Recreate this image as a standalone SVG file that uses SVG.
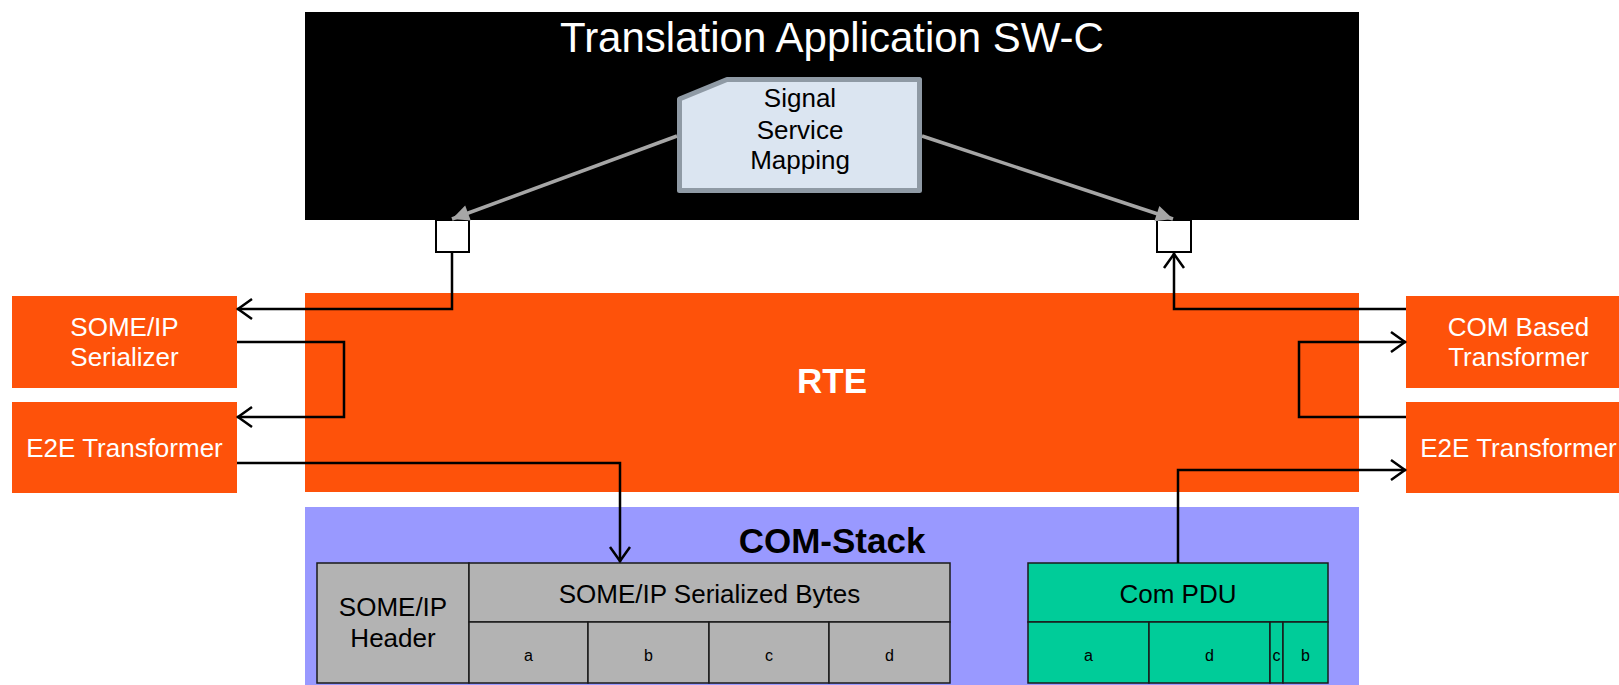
<svg xmlns="http://www.w3.org/2000/svg" width="1619" height="685" viewBox="0 0 1619 685">
<style>
  text { font-family: "Liberation Sans", Arial, sans-serif; }
  .orange { fill: #fe520a; }
  .wt { fill: #ffffff; font-size: 26px; text-anchor: middle; }
  .bt { fill: #000000; font-size: 26px; text-anchor: middle; }
  .sm { fill: #000000; font-size: 16px; text-anchor: middle; }
  .cell { stroke: #1a1a1a; stroke-width: 1.5; }
  .gray { fill: #b3b3b3; }
  .green { fill: #00cc99; }
  .conn { fill: none; stroke: #000; stroke-width: 2.5; marker-end: url(#open); }
  .gconn { fill: none; stroke: #a6a6a6; stroke-width: 3.5; marker-end: url(#gtri); }
</style>
<defs>
  <marker id="open" viewBox="-17 -12 19 24" refX="0" refY="0" markerWidth="19" markerHeight="24" markerUnits="userSpaceOnUse" orient="auto">
    <path d="M-15,-10 L-1,0 L-15,10" fill="none" stroke="#000" stroke-width="2.5"/>
  </marker>
  <marker id="gtri" viewBox="-18 -9 19 18" refX="0" refY="0" markerWidth="19" markerHeight="18" markerUnits="userSpaceOnUse" orient="auto">
    <path d="M-17,-8 L0,0 L-17,8 Z" fill="#a6a6a6"/>
  </marker>
</defs>

<g id="swc">
  <rect x="305" y="12" width="1054" height="208" fill="#000"/>
  <text x="832" y="52" fill="#fff" font-size="42" text-anchor="middle">Translation Application SW-C</text>
</g>

<g id="mapping">
  <path d="M679.5,99 L727,79.5 H919.5 V190.5 H679.5 Z" fill="#dbe5f1" stroke="#8f9aa5" stroke-width="5" stroke-linejoin="round"/>
  <text class="bt" x="800" y="107" font-size="25">Signal</text>
  <text class="bt" x="800" y="139" font-size="25">Service</text>
  <text class="bt" x="800" y="169" font-size="25">Mapping</text>
</g>

<g id="port-left">
  <rect x="436" y="220" width="33" height="32" fill="#fff" stroke="#000" stroke-width="2"/>
</g>
<g id="port-right">
  <rect x="1157" y="220" width="34" height="32" fill="#fff" stroke="#000" stroke-width="2"/>
</g>

<g id="rte">
  <rect class="orange" x="305" y="293" width="1054" height="199"/>
  <text x="832" y="393" fill="#fff" font-size="35" font-weight="bold" text-anchor="middle">RTE</text>
</g>

<g id="someip-serializer">
  <rect class="orange" x="12" y="296" width="225" height="92"/>
  <text class="wt" x="124.5" y="336">SOME/IP</text>
  <text class="wt" x="124.5" y="366">Serializer</text>
</g>
<g id="e2e-left">
  <rect class="orange" x="12" y="402" width="225" height="91"/>
  <text class="wt" x="124.5" y="457">E2E Transformer</text>
</g>
<g id="com-based">
  <rect class="orange" x="1406" y="296" width="225" height="92"/>
  <text class="wt" x="1518.5" y="336">COM Based</text>
  <text class="wt" x="1518.5" y="366">Transformer</text>
</g>
<g id="e2e-right">
  <rect class="orange" x="1406" y="402" width="225" height="91"/>
  <text class="wt" x="1518.5" y="457">E2E Transformer</text>
</g>

<g id="com-stack">
  <rect x="305" y="507" width="1054" height="178" fill="#9999ff"/>
  <text x="832" y="553" fill="#000" font-size="35" font-weight="bold" text-anchor="middle">COM-Stack</text>
</g>

<g id="someip-pdu">
  <rect class="gray cell" x="317" y="563" width="152" height="120"/>
  <rect class="gray cell" x="469" y="563" width="481" height="59"/>
  <rect class="gray cell" x="469" y="622" width="119" height="61"/>
  <rect class="gray cell" x="588" y="622" width="121" height="61"/>
  <rect class="gray cell" x="709" y="622" width="120" height="61"/>
  <rect class="gray cell" x="829" y="622" width="121" height="61"/>
  <text class="bt" x="393" y="616">SOME/IP</text>
  <text class="bt" x="393" y="647">Header</text>
  <text class="bt" x="709.5" y="603">SOME/IP Serialized Bytes</text>
  <text class="sm" x="528.5" y="661">a</text>
  <text class="sm" x="648.5" y="661">b</text>
  <text class="sm" x="769" y="661">c</text>
  <text class="sm" x="889.5" y="661">d</text>
</g>

<g id="com-pdu">
  <rect class="green cell" x="1028" y="563" width="300" height="59"/>
  <rect class="green cell" x="1028" y="622" width="121" height="61"/>
  <rect class="green cell" x="1149" y="622" width="121" height="61"/>
  <rect class="green cell" x="1270" y="622" width="13" height="61"/>
  <rect class="green cell" x="1283" y="622" width="45" height="61"/>
  <text class="bt" x="1178" y="603">Com PDU</text>
  <text class="sm" x="1088.5" y="661">a</text>
  <text class="sm" x="1209.5" y="661">d</text>
  <text class="sm" x="1276.5" y="661">c</text>
  <text class="sm" x="1305.5" y="661">b</text>
</g>

<g id="connectors">
  <path class="gconn" d="M677,136 L452,219"/>
  <path class="gconn" d="M922,136 L1173,219"/>
  <path class="conn" d="M452,252 V309 H237"/>
  <path class="conn" d="M237,342 H344 V417 H237"/>
  <path class="conn" d="M237,463 H620 V562"/>
  <path class="conn" d="M1406,309 H1174 V253"/>
  <path class="conn" d="M1406,417 H1299 V342 H1406"/>
  <path class="conn" d="M1178,563 V470 H1406"/>
</g>
</svg>
